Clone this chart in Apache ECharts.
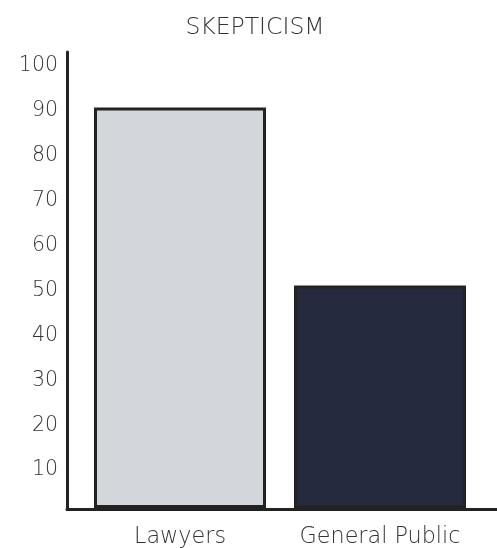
<!DOCTYPE html>
<html>
<head>
<meta charset="utf-8">
<script src="https://cdn.jsdelivr.net/npm/echarts@6/dist/echarts.min.js"></script>
<style>html,body{margin:0;padding:0;background:#fff;}#c{width:497px;height:548px;}</style>
</head>
<body>
<div id="c"></div>
<script>
const titleText = 'SKEPTICISM';
const categories = ['Lawyers', 'General Public'];
const values = [90, 50];
const barColors = ['#d3d6db', '#262a3e'];
const yMin = 0, yMax = 100, yInterval = 10;

const chart = echarts.init(document.getElementById('c'));
const font = '"DejaVu Sans", sans-serif';
const fw = 200;
chart.setOption({
  animation: false,
  title: {
    text: titleText, left: 250, top: 11, textAlign: 'center',
    textStyle: { fontFamily: font, fontSize: 23.5, fontWeight: fw, color: '#333' }
  },
  grid: [
    { left: 67, right: 0, top: 52, bottom: 38.5 },
    { left: 80, right: 17, top: 63, bottom: 38.5 },
    { left: 67, right: 0, top: 66, bottom: 33 }
  ],
  xAxis: [
    { gridIndex: 0, type: 'value', min: 0, max: 1,
      axisLine: { show: true, lineStyle: { color: '#222', width: 3 } },
      axisTick: { show: false }, axisLabel: { show: false }, splitLine: { show: false } },
    { gridIndex: 1, type: 'category', data: categories,
      axisLine: { show: false }, axisTick: { show: false },
      axisLabel: { interval: 0, hideOverlap: false, margin: 18, fontFamily: font, fontSize: 22.3, fontWeight: fw, color: '#333' } },
    { gridIndex: 2, type: 'value', show: false }
  ],
  yAxis: [
    { gridIndex: 0, type: 'value', min: 0, max: 1,
      axisLine: { show: true, lineStyle: { color: '#222', width: 3 } },
      axisTick: { show: false }, axisLabel: { show: false }, splitLine: { show: false } },
    { gridIndex: 1, type: 'value', min: yMin, max: yMax, interval: yInterval, show: false },
    { gridIndex: 2, type: 'value', min: yMin, max: yMax, interval: yInterval,
      axisLine: { show: false }, axisTick: { show: false }, splitLine: { show: false },
      axisLabel: { margin: 9, fontFamily: font, fontSize: 20.5, fontWeight: fw, color: '#333',
        formatter: v => v === 0 ? '' : String(v) } }
  ],
  series: [{
    type: 'bar', xAxisIndex: 1, yAxisIndex: 1, barWidth: 172,
    data: values.map((v, i) => ({ value: v, itemStyle: { color: barColors[i] } })),
    itemStyle: { borderColor: '#222', borderWidth: 3 }
  }]
});
</script>
</body>
</html>
